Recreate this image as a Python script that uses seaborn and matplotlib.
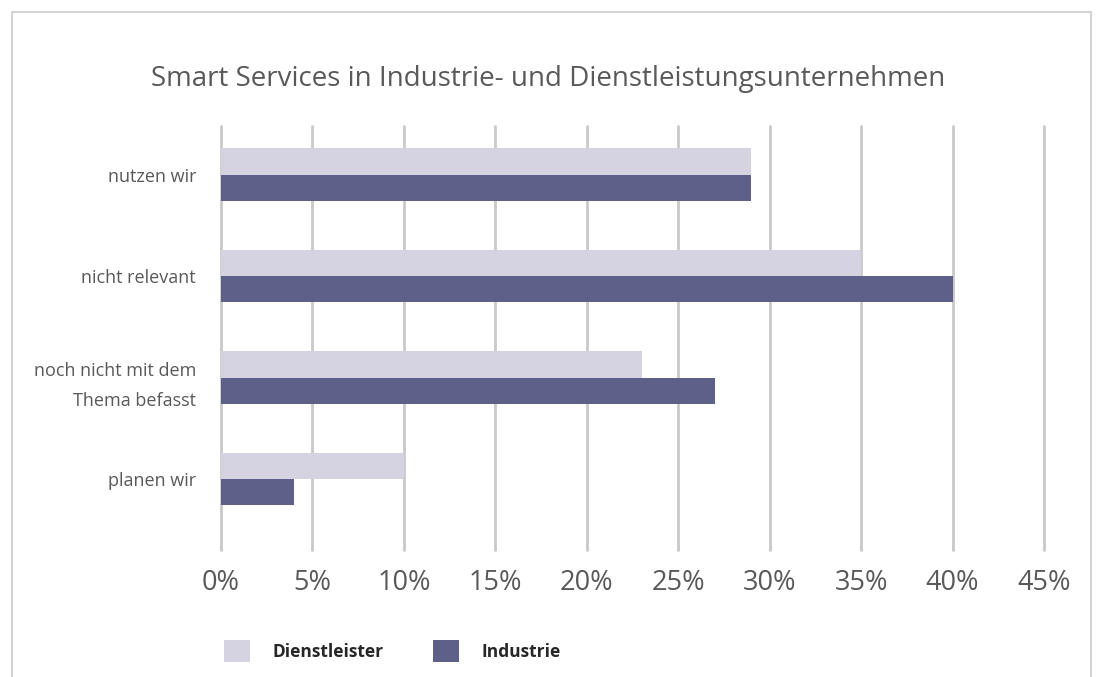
import matplotlib
matplotlib.use("Agg")
import matplotlib.pyplot as plt
import seaborn as sns
import pandas as pd
from matplotlib.patches import Patch, Rectangle
from matplotlib.ticker import MultipleLocator, FuncFormatter

categories = ["nutzen wir", "nicht relevant", "noch nicht mit dem\nThema befasst", "planen wir"]
series_names = ["Dienstleister", "Industrie"]
dienstleister = [29, 35, 23, 10]
industrie = [29, 40, 27, 4]
colors = ["#d5d3e1", "#5f608a"]

df = pd.DataFrame({
    "Kategorie": categories * 2,
    "Gruppe": [series_names[0]] * 4 + [series_names[1]] * 4,
    "Wert": dienstleister + industrie,
})

sns.set_theme(style="white")
plt.rcParams["font.family"] = ["Open Sans", "DejaVu Sans"]

fig = plt.figure(figsize=(10.98, 6.77), dpi=100)
ax = fig.add_axes([221 / 1098, 1 - 550 / 677, (1044 - 221) / 1098, (550 - 126) / 677])

sns.barplot(data=df, y="Kategorie", x="Wert", hue="Gruppe", order=categories,
            hue_order=series_names, palette=colors, width=0.52, orient="h",
            saturation=1, ax=ax, legend=False, zorder=3, linewidth=0)

ax.set_xlim(0, 45)
ax.set_ylim(3.70, -0.48)
ax.xaxis.set_major_locator(MultipleLocator(5))
ax.xaxis.set_major_formatter(FuncFormatter(lambda v, p: f"{int(round(v))}%"))
ax.grid(axis="x", color="#c9c9c9", linewidth=2, zorder=0)
for gl in ax.get_xgridlines():
    gl.set_clip_on(False)
ax.grid(axis="y", visible=False)
for s in ax.spines.values():
    s.set_visible(False)
ax.set_xlabel("")
ax.set_ylabel("")
ax.tick_params(axis="x", labelsize=19.5, labelcolor="#595959", length=0, pad=14)
ax.tick_params(axis="y", labelsize=13, labelcolor="#595959", length=0, pad=18)
for lbl in ax.get_yticklabels():
    lbl.set_linespacing(1.9)

fig.text(548 / 1098, 1 - 79 / 677, "Smart Services in Industrie- und Dienstleistungsunternehmen",
         ha="center", va="center", fontsize=20, color="#595959")

handles = [Patch(facecolor=c, edgecolor="none") for c in colors]
leg = fig.legend(handles, series_names, loc="center left",
                 bbox_to_anchor=(208 / 1098, 1 - 651 / 677), ncol=2, frameon=False,
                 handlelength=1.5, handleheight=1.5, handletextpad=1.3, columnspacing=2.85,
                 prop={"weight": "bold", "size": 12.5})

fig.patches.append(Rectangle((12 / 1098, -0.05), (1091 - 12) / 1098, 1.05 - 12 / 677,
                             transform=fig.transFigure, fill=False, edgecolor="#d4d4d4",
                             linewidth=1.5))

fig.savefig("out.png", dpi=100)
